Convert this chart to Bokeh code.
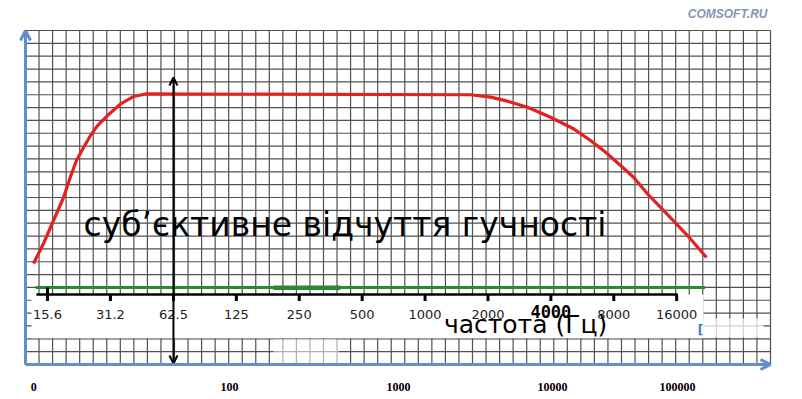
import numpy as np
from bokeh.plotting import figure
from bokeh.models import Range1d, Arrow, OpenHead, ColumnDataSource
from bokeh.core.properties import value
from bokeh.embed import file_html
from bokeh.resources import INLINE

# ---- data ----
freq_hz = [13.37, 14.93, 16.67, 18.61, 20.10, 21.47, 23.20, 25.06, 27.07, 30.22,
           34.88, 40.25, 45.94, 1650, 2058, 2481, 3092, 3986, 5133, 6193, 7468,
           8621, 9945, 11600, 13840, 18030, 22230]
loudness = [7.86, 9.42, 11.21, 13.0, 14.63, 15.88, 16.89, 17.83, 18.60, 19.38,
            20.28, 20.86, 21.06, 21.0, 20.81, 20.5, 20.03, 19.25, 18.35, 17.44,
            16.40, 15.49, 14.58, 13.29, 11.99, 10.04, 8.33]

threshold_freq = [13.7, 21900]
threshold_level = [6.0, 6.0]

octave_freqs = [15.6, 31.2, 62.5, 125, 250, 500, 1000, 2000, 4000, 8000, 16000]
octave_labels = ["15.6", "31.2", "62.5", "125", "250", "500", "1000", "2000",
                 "4000", "8000", "16000"]

bottom_labels = ["0", "100", "1000", "10000", "100000"]
bottom_pos_hz = [13.4, 115.9, 746.0, 4075.0, 16150.0]

title_text = "суб’єктивне відчуття гучності"
xlabel_text = "частота (Гц)"
watermark = "COMSOFT.RU"

# ---- figure: the frame fills the whole canvas ----
GX0, GX1 = 12.24, 45000.0       # paper (grid) extent in Hz
GY0, GY1 = 0.0, 26.0            # paper extent in grid cells
p = figure(width=802, height=399, x_axis_type="log",
           x_range=Range1d(9.293, 64020), y_range=Range1d(-2.725, 28.336),
           x_axis_location=None, y_axis_location=None,
           toolbar_location=None, output_backend="svg", min_border=0)
p.outline_line_color = None
p.background_fill_color = "white"
p.border_fill_color = "white"
p.xgrid.visible = False
p.ygrid.visible = False

# squared paper grid (drawn first, below everything)
xt = GX0 * 2.0 ** (np.arange(56) * (13.545 / 62.9))
yt = np.arange(0, 27, 1.0)
grid_col = "#505050"
p.segment(x0=xt, y0=np.full(xt.size, GY0), x1=xt, y1=np.full(xt.size, GY1),
          line_color=grid_col, line_width=1.2)
p.segment(x0=np.full(yt.size, GX0), y0=yt, x1=np.full(yt.size, GX1), y1=yt,
          line_color=grid_col, line_width=1.2)

# erased (white) regions of the paper
p.quad(left=[13.07], right=[21510], bottom=[2.05], top=[5.45],
       fill_color="white", line_color=None)
p.quad(left=[188], right=[385], bottom=[0.05], top=[1.97],
       fill_color="white", fill_alpha=0.55, line_color=None)
p.quad(left=[20810], right=[41670], bottom=[2.1], top=[3.58],
       fill_color="white", fill_alpha=0.75, line_color=None)

# threshold (green) line
p.line(threshold_freq, threshold_level, line_color="#2a8a2e", line_width=3)
p.line([188, 394], [5.97, 5.97], line_color="#2a8a2e", line_width=4.5)

# loudness curve
p.line(freq_hz, loudness, line_color="#e3221f", line_width=3.2,
       line_join="round")

# inner frequency axis
p.line([13.8, 16200], [5.45, 5.45], line_color="black", line_width=2.5)
tick_top = [6.0] + [5.45] * (len(octave_freqs) - 1)
p.segment(x0=octave_freqs, y0=tick_top, x1=octave_freqs,
          y1=[4.94] * len(octave_freqs), line_color="black", line_width=3)

reg = [i for i, t in enumerate(octave_labels) if t != "4000"]
src_reg = ColumnDataSource(dict(x=[octave_freqs[i] for i in reg],
                                y=[3.89] * len(reg),
                                t=[octave_labels[i] for i in reg]))
p.text(x="x", y="y", text="t", source=src_reg, text_align="center",
       text_baseline="middle", text_font=value("DejaVu Sans"),
       text_font_size="13px", text_color="#222222")
bi = octave_labels.index("4000")
p.text(x=[octave_freqs[bi]], y=[4.1], text=[octave_labels[bi]],
       text_align="center", text_baseline="middle",
       text_font=value("DejaVu Sans Mono"), text_font_style="bold",
       text_font_size="17px", text_color="black")

p.text(x=[3027], y=[3.12], text=[xlabel_text], text_align="center",
       text_baseline="middle", text_font=value("DejaVu Sans"),
       text_font_size="25px", text_color="black")

# small blue bracket mark at the right of the label band
p.text(x=[20810], y=[2.65], text=["["], text_align="center",
       text_baseline="middle", text_font=value("DejaVu Sans"),
       text_font_style="bold", text_font_size="12px", text_color="#3a78c0")

# big caption
p.text(x=[23.2], y=[10.9], text=[title_text], text_align="left",
       text_baseline="alphabetic", text_font=value("DejaVu Sans"),
       text_font_size="33px", text_color="black")

# black double arrow at 62.5 Hz
p.add_layout(Arrow(x_start=62.5, y_start=0.08, x_end=62.5, y_end=22.34,
                   line_color="black", line_width=2,
                   start=OpenHead(size=8, line_width=2, line_color="black"),
                   end=OpenHead(size=8, line_width=2, line_color="black")))

# blue axes with arrows
blue = "#6090c8"
p.add_layout(Arrow(x_start=GX0, y_start=GY0, x_end=GX0, y_end=GY1,
                   line_color=blue, line_width=3,
                   end=OpenHead(size=10, line_width=3, line_color=blue)))
p.add_layout(Arrow(x_start=GX0, y_start=GY0, x_end=GX1, y_end=GY0,
                   line_color=blue, line_width=3,
                   end=OpenHead(size=10, line_width=3, line_color=blue)))

# bottom numeric labels
p.text(x=bottom_pos_hz, y=[-1.79] * len(bottom_pos_hz), text=bottom_labels,
       text_align="center", text_baseline="middle",
       text_font=value("Liberation Serif"), text_font_style="bold",
       text_font_size="12px", text_color="black")

# watermark
p.text(x=[43550], y=[27.25], text=[watermark], text_align="right",
       text_baseline="middle", text_font=value("Liberation Sans"),
       text_font_style="bold italic", text_font_size="12px",
       text_color="#8496b0")

open("out.html", "w").write(file_html(p, INLINE))
